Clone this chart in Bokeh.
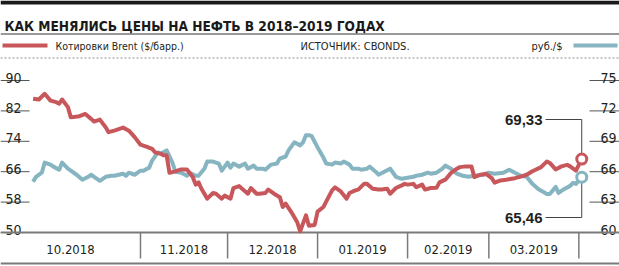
import pandas as pd
from bokeh.plotting import figure
from bokeh.models import Range1d, Label
from bokeh.core.properties import value
from bokeh.embed import file_html
from bokeh.resources import INLINE

# ---------------- data ----------------
TITLE = "КАК МЕНЯЛИСЬ ЦЕНЫ НА НЕФТЬ В 2018–2019 ГОДАХ"
LEGEND_BRENT = "Котировки Brent ($/барр.)"
SOURCE = "ИСТОЧНИК: CBONDS."
LEGEND_RUB = "руб./$"

START = "2018-10-01"  # day 0 of the day offsets below

brent_day = [-6, -4, -2, 0, 2, 3, 4, 6, 7, 10,
             12, 14, 15, 17, 19, 20, 22, 25, 27, 29,
             31, 33, 35, 36, 38, 39, 40, 41, 43, 45,
             47, 49, 50, 51, 52, 54, 56, 57, 59, 60,
             62, 63, 65, 66, 68, 69, 71, 72, 74, 75,
             77, 79, 80, 81, 83, 84, 85, 86, 88, 89,
             91, 92, 94, 95, 97, 98, 100, 102, 103, 105,
             106, 108, 109, 111, 113, 114, 116, 117, 119, 121,
             122, 123, 125, 126, 128, 129, 131, 133, 134, 136,
             138, 140, 141, 143, 145, 146, 148, 150, 152, 153,
             155, 157, 160, 162, 164, 166, 169, 171, 172, 174,
             176, 178, 179, 181, 182, 183]
brent = [85.2, 85.0, 86.5, 84.7, 84.3, 83.9, 85.0, 83.0, 80.3, 80.6,
         81.2, 79.9, 79.2, 79.7, 77.7, 76.4, 76.8, 77.6, 76.8, 75.1,
         73.1, 72.6, 72.0, 71.1, 70.7, 70.3, 70.3, 65.7, 66.1, 66.6,
         66.6, 64.6, 62.6, 63.2, 61.5, 58.9, 60.4, 60.2, 58.9, 59.7,
         58.9, 61.7, 62.2, 61.5, 60.2, 61.7, 60.2, 60.2, 60.4, 61.3,
         60.2, 59.3, 56.7, 57.6, 55.3, 54.0, 52.7, 50.3, 54.5, 51.8,
         52.0, 55.5, 56.7, 58.2, 61.1, 61.9, 60.8, 58.9, 60.4, 61.1,
         61.3, 62.8, 62.8, 61.5, 61.3, 61.3, 61.5, 60.2, 61.7, 62.4,
         62.8, 62.6, 62.8, 61.9, 62.6, 61.3, 61.7, 61.8, 63.2, 63.9,
         65.7, 66.8, 67.2, 67.4, 67.4, 64.6, 65.2, 65.4, 64.3, 63.1,
         63.7, 63.9, 64.3, 64.7, 65.2, 66.1, 67.2, 68.7, 68.3, 66.6,
         67.4, 67.8, 67.4, 66.3, 67.8, 69.33]

rub_day = [-6, -5, -3, -2, 0, 1, 3, 4, 6, 7,
           9, 11, 13, 14, 15, 17, 19, 21, 22, 25,
           26, 27, 29, 31, 32, 34, 35, 37, 38, 40,
           42, 43, 45, 47, 48, 50, 51, 53, 54, 56,
           58, 59, 61, 62, 63, 65, 67, 68, 70, 71,
           73, 74, 76, 78, 79, 81, 82, 84, 86, 87,
           88, 89, 90, 92, 94, 95, 97, 98, 100, 101,
           103, 104, 106, 107, 109, 110, 112, 113, 115, 117,
           118, 119, 121, 123, 125, 126, 128, 130, 131, 133,
           135, 136, 138, 140, 142, 144, 146, 149, 151, 153,
           156, 158, 160, 162, 164, 166, 168, 171, 172, 174,
           175, 177, 179, 180, 181, 183]
rub = [65.0, 65.5, 65.9, 66.9, 66.7, 66.5, 66.2, 66.9, 66.3, 66.1,
       65.7, 65.2, 65.5, 65.7, 65.5, 65.1, 65.5, 65.6, 65.6, 65.8,
       65.6, 65.9, 65.7, 66.1, 66.1, 66.4, 67.1, 67.9, 67.8, 68.1,
       66.9, 66.0, 65.9, 65.6, 65.9, 65.6, 65.6, 66.3, 67.0, 67.0,
       66.8, 66.1, 66.9, 66.4, 66.8, 66.5, 66.8, 66.3, 66.6, 66.3,
       66.3, 66.2, 66.7, 66.8, 67.3, 67.5, 68.1, 68.9, 68.6, 68.9,
       69.6, 69.6, 69.5, 68.4, 67.4, 66.8, 66.7, 66.9, 66.8, 67.0,
       66.7, 66.3, 66.3, 66.2, 66.3, 66.5, 66.0, 65.7, 66.0, 66.3,
       65.9, 65.5, 65.3, 65.4, 65.5, 65.6, 65.7, 65.9, 65.8, 65.9,
       66.3, 66.6, 66.3, 65.8, 65.6, 65.5, 65.6, 65.7, 65.9, 65.8,
       65.9, 66.2, 65.9, 65.6, 65.5, 64.8, 64.3, 63.8, 63.8, 64.5,
       63.9, 64.3, 64.6, 64.9, 64.8, 65.46]

left_ticks = [50, 58, 66, 74, 82, 90]
right_ticks = [60, 63, 66, 69, 72, 75]
month_labels = ["10.2018", "11.2018", "12.2018", "01.2019", "02.2019", "03.2019"]
month_edges = ["2018-11-01", "2018-12-01", "2019-01-01", "2019-02-01", "2019-03-01", "2019-04-01"]
brent_last_label = "69,33"
rub_last_label = "65,46"

# ---------------- layout / style ----------------
W, H = 619, 266
PLOT_TOP, PLOT_BOTTOM = 80, 232          # pixel rows of top / bottom ticks
DAY0_PX, PX_PER_DAY = 50, 2.903           # horizontal placement of the time scale

RED = "#c8575b"
BLUE = "#86b5c1"
INK = "#231f20"
GREY = "#7a7a7a"
NARROW = "'Liberation Sans Narrow', 'DejaVu Sans Condensed', sans-serif"
WIDE = "'Liberation Sans', Arial, sans-serif"

ls = (left_ticks[-1] - left_ticks[0]) / (PLOT_BOTTOM - PLOT_TOP)
rs = (right_ticks[-1] - right_ticks[0]) / (PLOT_BOTTOM - PLOT_TOP)
y_range = Range1d(left_ticks[0] - (H - PLOT_BOTTOM) * ls, left_ticks[-1] + PLOT_TOP * ls)
r_range = Range1d(right_ticks[0] - (H - PLOT_BOTTOM) * rs, right_ticks[-1] + PLOT_TOP * rs)
x_range = Range1d(-DAY0_PX / PX_PER_DAY, (W - DAY0_PX) / PX_PER_DAY)


def X(px):
    return x_range.start + px / PX_PER_DAY


def Y(py):
    return y_range.end - py * ls


def RY(py):
    return r_range.end - py * rs


t0 = pd.Timestamp(START)
edge_days = [(pd.Timestamp(d) - t0).days for d in month_edges]

p = figure(width=W, height=H, x_range=x_range, y_range=y_range,
           output_backend="svg", toolbar_location=None, min_border=0,
           x_axis_type=None, y_axis_type=None)
p.extra_y_ranges = {"rub": r_range}
p.outline_line_color = None
p.xgrid.visible = False
p.ygrid.visible = False
p.background_fill_color = "white"
p.border_fill_color = "white"


def label(x, y, text, size, font=NARROW, style="normal", align="left",
          baseline="middle", color=INK):
    p.add_layout(Label(x=x, y=y, text=text, text_font=font, text_font_size=size,
                       text_font_style=style, text_align=align,
                       text_baseline=baseline, text_color=color))


# header
p.segment(x0=[X(0)], x1=[X(W)], y0=[Y(2)], y1=[Y(2)], line_width=4, line_color="#1a1a1a")
label(X(4), Y(25), TITLE, "13.6px", style="bold", baseline="alphabetic", color="#1a1a1a")
p.segment(x0=[X(0)], x1=[X(W)], y0=[Y(33.5)], y1=[Y(33.5)], line_width=1, line_color="#333333")
p.segment(x0=[X(2)], x1=[X(47)], y0=[Y(45)], y1=[Y(45)], line_width=4, line_color=RED)
label(X(55), Y(45.5), LEGEND_BRENT, "10.5px")
label(X(300), Y(45.5), SOURCE, "11px")
label(X(562), Y(45.5), LEGEND_RUB, "11px", align="right")
p.segment(x0=[X(573)], x1=[X(617)], y0=[Y(45)], y1=[Y(45)], line_width=4, line_color=BLUE)
p.segment(x0=[X(0)], x1=[X(W)], y0=[Y(57.5)], y1=[Y(57.5)], line_width=1,
          line_color="#8c8c8c", line_dash="2 2")

# left scale (Brent)
p.segment(x0=[X(0)] * len(left_ticks), x1=[X(29)] * len(left_ticks),
          y0=left_ticks, y1=left_ticks, line_width=1, line_color="#555555")
p.text(x=[X(5)] * len(left_ticks), y=[v + 3 * ls for v in left_ticks],
       text=[str(v) for v in left_ticks], text_font=value(NARROW),
       text_font_size=value("14px"), text_color=INK, text_baseline="alphabetic",
       text_align="left")

# right scale (RUB/USD)
p.segment(x0=[X(589)] * len(right_ticks), x1=[X(W)] * len(right_ticks),
          y0=right_ticks, y1=right_ticks, line_width=1, line_color="#555555",
          y_range_name="rub")
p.text(x=[X(616)] * len(right_ticks), y=[v + 3 * rs for v in right_ticks],
       text=[str(v) for v in right_ticks], text_font=value(NARROW),
       text_font_size=value("14px"), text_color=INK, text_baseline="alphabetic",
       text_align="right", y_range_name="rub")

# month band
p.segment(x0=[X(0)], x1=[X(W)], y0=[left_ticks[0]], y1=[left_ticks[0]],
          line_width=2, line_color=GREY)
p.segment(x0=[X(0)], x1=[X(W)], y0=[Y(263)], y1=[Y(263)], line_width=2, line_color=GREY)
p.segment(x0=edge_days, x1=edge_days, y0=[left_ticks[0]] * len(edge_days),
          y1=[Y(258)] * len(edge_days), line_width=1.5, line_color=GREY)
centers = [(x_range.start + edge_days[0]) / 2] + \
          [(a + b) / 2 for a, b in zip(edge_days[:-1], edge_days[1:])]
p.text(x=centers, y=[Y(249)] * len(centers), text=month_labels,
       text_font=value(NARROW), text_font_size=value("13px"), text_color=INK,
       text_align="center", text_baseline="middle")

# series
p.line(x=rub_day, y=rub, line_color=BLUE, line_width=4, line_join="round",
       y_range_name="rub")
p.line(x=brent_day, y=brent, line_color=RED, line_width=4, line_join="round")

# end annotations
xe = brent_day[-1]
lead_x = X(545)
p.segment(x0=[lead_x, xe], x1=[xe, xe], y0=[Y(119), Y(119)], y1=[Y(119), brent[-1]],
          line_width=1, line_color="#444444")
p.segment(x0=[lead_x, rub_day[-1]], x1=[rub_day[-1], rub_day[-1]],
          y0=[RY(217), RY(217)], y1=[RY(217), rub[-1]],
          line_width=1, line_color="#444444", y_range_name="rub")
p.scatter(x=[rub_day[-1]], y=[rub[-1]], size=10, fill_color="white",
          line_color=BLUE, line_width=3, y_range_name="rub")
p.scatter(x=[xe], y=[brent[-1]], size=10, fill_color="white",
          line_color=RED, line_width=3)
label(X(542), Y(119), brent_last_label, "15px", font=WIDE, style="bold", align="right")
label(X(542), Y(217), rub_last_label, "15px", font=WIDE, style="bold", align="right")

open("out.html", "w").write(file_html(p, INLINE))
